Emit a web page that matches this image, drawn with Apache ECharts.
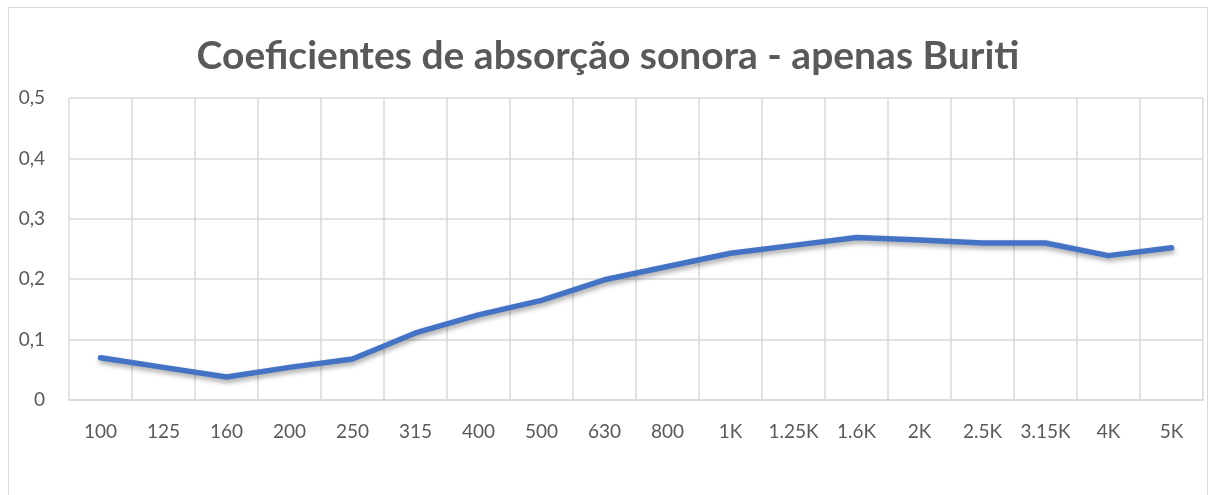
<!DOCTYPE html>
<html>
<head>
<meta charset="utf-8">
<script src="https://cdn.jsdelivr.net/npm/echarts@6/dist/echarts.min.js"></script>
<style>
  html, body { margin: 0; padding: 0; background: #fff; }
  #chart { width: 1216px; height: 495px; }
</style>
</head>
<body>
<div id="chart"></div>
<script>
// Frequency bands (Hz) along the horizontal axis
const frequencies = ['100', '125', '160', '200', '250', '315', '400', '500', '630', '800',
  '1K', '1.25K', '1.6K', '2K', '2.5K', '3.15K', '4K', '5K'];

// Sound absorption coefficient per band
const absorption = [0.070, 0.054, 0.038, 0.054, 0.068, 0.111, 0.141, 0.165, 0.199, 0.221,
  0.243, 0.256, 0.269, 0.265, 0.260, 0.260, 0.239, 0.252];

const titleText = 'Coeficientes de absorção sonora - apenas Buriti';

const textColor = '#595959';
const gridColor = '#d9d9d9';
const lineColor = '#4472C4';

const chart = echarts.init(document.getElementById('chart'), null, { renderer: 'canvas' });

chart.setOption({
  animation: false,
  backgroundColor: '#fff',
  graphic: [{
    type: 'rect',
    shape: { x: 8.5, y: 7.5, width: 1199, height: 500 },
    style: { fill: 'none', stroke: gridColor, lineWidth: 1 },
    silent: true
  }],
  title: {
    text: titleText,
    left: 'center',
    top: 32,
    textStyle: {
      fontFamily: 'Lato',
      fontWeight: 'bold',
      fontSize: 39,
      color: textColor
    }
  },
  grid: { left: 69, right: 13, top: 98, bottom: 95, containLabel: false },
  xAxis: {
    type: 'category',
    data: frequencies,
    boundaryGap: true,
    axisLine: { show: true, lineStyle: { color: gridColor, width: 1.5 } },
    axisTick: { show: false },
    splitLine: { show: true, lineStyle: { color: gridColor, width: 1.5 } },
    axisLabel: {
      fontFamily: 'Lato',
      fontSize: 19,
      color: textColor,
      margin: 22,
      interval: 0
    }
  },
  yAxis: {
    type: 'value',
    min: 0,
    max: 0.5,
    interval: 0.1,
    axisLine: { show: false },
    axisTick: { show: false },
    splitLine: { lineStyle: { color: gridColor, width: 1.5 } },
    axisLabel: {
      fontFamily: 'Lato',
      fontSize: 19,
      color: textColor,
      margin: 24,
      formatter: v => (Math.round(v * 10) / 10).toString().replace('.', ',')
    }
  },
  series: [{
    type: 'line',
    data: absorption,
    symbol: 'none',
    lineStyle: {
      color: lineColor,
      width: 5.5,
      cap: 'round',
      join: 'round',
      shadowColor: 'rgba(0,0,0,0.35)',
      shadowBlur: 5,
      shadowOffsetY: 3,
      shadowOffsetX: 1
    }
  }]
});
</script>
</body>
</html>
